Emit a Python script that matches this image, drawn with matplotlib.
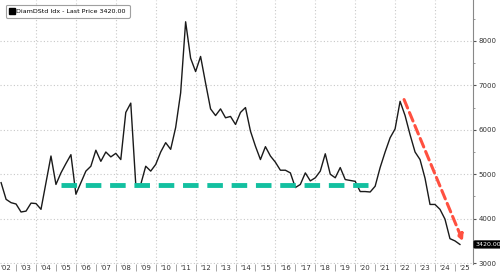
import numpy as np
import matplotlib
matplotlib.use("Agg")
import matplotlib.pyplot as plt
from matplotlib.ticker import FixedLocator, MultipleLocator

# quarterly closes, starting Q1 2002
start_year = 2002.25
prices = [4810, 4435, 4360, 4330, 4150, 4170, 4350, 4340, 4210, 4810,
          5410, 4770, 5030, 5240, 5440, 4550, 4810, 5070, 5180, 5540,
          5290, 5500, 5390, 5470, 5330, 6390, 6600, 4770, 4770, 5180,
          5070, 5220, 5500, 5710, 5560, 6050, 6830, 8430, 7610, 7310,
          7650, 7050, 6470, 6320, 6470, 6270, 6300, 6120, 6390, 6500,
          5970, 5630, 5330, 5620, 5410, 5270, 5090, 5090, 5030, 4700,
          4770, 5030, 4850, 4920, 5070, 5460, 5000, 4920, 5150, 4880,
          4860, 4840, 4610, 4610, 4600, 4730, 5150, 5500, 5820, 6020,
          6640, 6320, 5890, 5500, 5330, 4910, 4320, 4320, 4210, 3990,
          3550, 3500, 3420]
last_price = 3420.00

# support line and downtrend arrow
support_level = 4750
support_span = [2005.25, 2020.65]
trend_from = [2022.45, 6680]
trend_to = [2025.4, 3490]

years = start_year + 0.25 * np.arange(len(prices))
year_labels = ["'%02d" % (y % 100) for y in range(2002, 2026)]

fig = plt.figure(figsize=(5, 2.75), dpi=100)
ax = fig.add_axes([0.0, 0.04, 0.946, 0.96])

ax.plot(years, prices, color='#1a1a1a', lw=1.0, zorder=3)
ax.plot(support_span, [support_level, support_level], color='#13c0a0',
        lw=3.5, dashes=(3.2, 1.8), zorder=4)
ax.annotate('', xy=trend_to, xytext=trend_from,
            arrowprops=dict(arrowstyle='-|>', color='#ff5040', lw=2.2,
                            linestyle=(0, (3, 1.6)), mutation_scale=9,
                            shrinkA=0, shrinkB=0), zorder=5)

ax.set_xlim(2002.195, 2025.905)
ax.set_ylim(2980, 8920)

# y axis on the right
ax.yaxis.tick_right()
ax.set_yticks([3000, 4000, 5000, 6000, 7000, 8000])
ax.yaxis.set_minor_locator(MultipleLocator(500))
ax.tick_params(axis='y', which='major', length=2.5, width=0.8, colors='#555555',
               labelsize=5, labelcolor='#333333', pad=1.5)
ax.tick_params(axis='y', which='minor', length=1.5, width=0.6, colors='#888888')

# x axis: separators at year boundaries, labels mid-year
ax.xaxis.set_minor_locator(FixedLocator(np.arange(2003, 2026)))
ax.set_xticks(np.arange(2002, 2026) + 0.5)
ax.set_xticklabels(year_labels)
ax.tick_params(axis='x', which='major', length=0, labelsize=5,
               labelcolor='#333333', pad=1)
ax.tick_params(axis='x', which='minor', length=5, width=0.6, colors='#999999')

for y in [3000, 4000, 5000, 6000, 7000, 8000]:
    ax.axhline(y, color='#c8c8c8', lw=0.8, ls=(0, (1, 2)), zorder=1)
for x in range(2004, 2026, 2):
    ax.axvline(x, color='#c8c8c8', lw=0.8, ls=(0, (1, 2)), zorder=1)

for s in ['top', 'left', 'bottom']:
    ax.spines[s].set_visible(False)
ax.spines['right'].set_color('#888888')
ax.spines['right'].set_linewidth(0.8)

# last price tag
ax.annotate('%.2f' % last_price, xy=(1.0, last_price), xycoords=('axes fraction', 'data'),
            xytext=(1.5, 0), textcoords='offset points', va='center', ha='left',
            fontsize=4.5, color='white',
            bbox=dict(boxstyle='round,pad=0.15', fc='black', ec='black'))

# legend box
ax.plot([], [], marker='s', ls='none', color='black', markersize=5,
        label='DiamDStd Idx - Last Price %.2f' % last_price)
leg = ax.legend(loc='upper left', fontsize=4.6, frameon=True, fancybox=True,
                handletextpad=0.3, borderpad=0.6, handlelength=0.8,
                bbox_to_anchor=(0.005, 0.995))
leg.get_frame().set_edgecolor('#888888')
leg.get_frame().set_linewidth(0.8)

fig.savefig('out.png', dpi=100)
